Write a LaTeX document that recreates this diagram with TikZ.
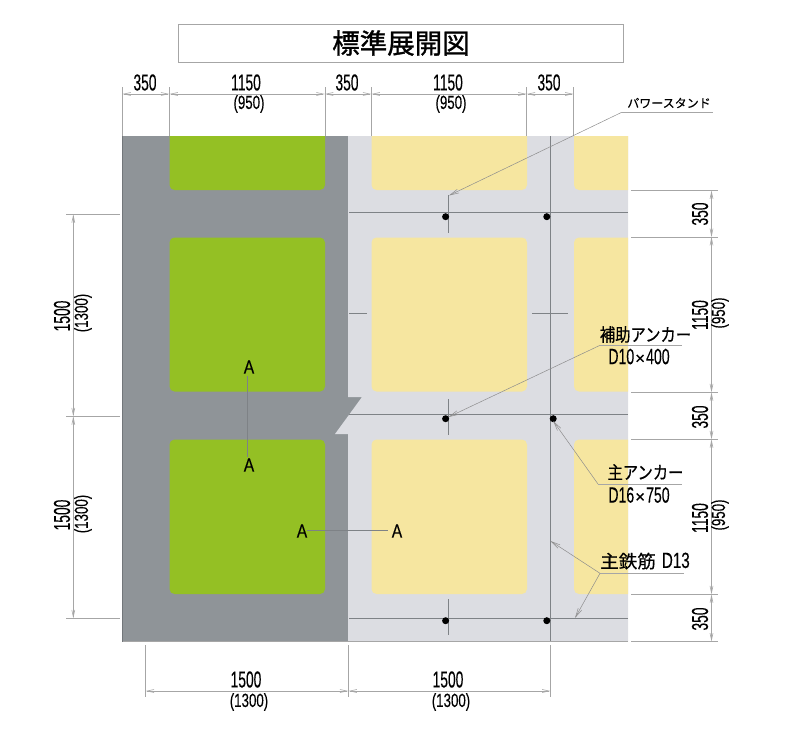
\documentclass[tikz,border=0pt]{standalone}
\usepackage{fontspec}
\usetikzlibrary{arrows.meta}
\setmainfont{Liberation Sans}
\newfontfamily\numfont[FakeBold=0.25]{Liberation Sans}
\newfontfamily\cjk{Noto Sans CJK JP}
\newfontfamily\cjkmid[FakeBold=0.5]{Noto Sans CJK JP}
\newfontfamily\cjkheavy[FakeBold=1.2]{Noto Sans CJK JP}
\definecolor{slabdark}{HTML}{8F9498}
\definecolor{slablight}{HTML}{DCDDE2}
\definecolor{padyellow}{HTML}{F6E6A0}
\definecolor{padgreen}{HTML}{94C024}
\definecolor{thinline}{HTML}{A6A6A6}
\definecolor{barline}{HTML}{7E8286}
\newcommand{\bignum}[1]{\numfont\fontsize{23}{23}\selectfont\scalebox{0.6}[1]{#1}}
\newcommand{\subnum}[1]{\numfont\fontsize{19}{19}\selectfont\scalebox{0.7}[1]{#1}}
\newcommand{\callnum}[1]{\numfont\fontsize{22}{22}\selectfont\scalebox{0.64}[1]{#1}}
\newcommand{\timesmark}{{\numfont\fontsize{17}{17}\selectfont ×}}
\newcommand{\sqzcjk}[2]{\scalebox{#1}[1]{\cjkmid\fontsize{18}{18}\selectfont #2}}
\tikzset{
  every node/.style={inner sep=0pt,outer sep=0pt,text=black},
  ext/.style={draw=thinline,line width=0.5pt},
  dimension/.style={draw=thinline,line width=0.6pt,{Straight Barb[length=7pt,width=3pt]}-{Straight Barb[length=7pt,width=3pt]}},
  leader/.style={draw=thinline!85!black,line width=0.5pt,-{Straight Barb[length=9pt,width=4pt]}},
  underline/.style={draw=thinline,line width=0.6pt},
  bar/.style={draw=barline,line width=0.6pt},
  anchorpt/.style={circle,fill=black,minimum size=7pt},
  padg/.style={fill=padgreen,rounded corners=5pt},
  pady/.style={fill=padyellow,rounded corners=5pt},
  letter/.style={font=\numfont\fontsize{19}{19}\selectfont}
}
\begin{document}
\begin{tikzpicture}[x=1pt,y=-1pt]
\useasboundingbox (0,0) rectangle (792,755);
% title
\node[draw=thinline,line width=0.6pt,minimum width=445pt,minimum height=38pt] (title) at (400.7,43.2) {};
\node (titletext) at (401,43) {\cjkheavy\fontsize{27.5}{27.5}\selectfont 標準展開図};
% slab
\fill[slabdark] (122,136) rectangle (349,641);
\fill[slabdark] (340,397) rectangle (362,434);
\fill[slablight] (348,136) -- (628,136) -- (628,641.5) -- (348,641.5) -- (348,434) -- (335,434) -- (362,397) -- (348,397) -- cycle;
\draw[draw=thinline,line width=0.6pt] (122,641.5) -- (628,641.5);
\draw[draw=slabdark!80!black,line width=0.6pt] (122,136) -- (122,641.5);
\begin{scope}
\clip (122,136) rectangle (628,641.5);
\fill[padg] (169.5,100) rectangle (325,190);
\fill[padg] (169.5,237.5) rectangle (325,391.5);
\fill[padg] (169.5,439.5) rectangle (325,594);
\fill[pady] (371.5,100) rectangle (527,190);
\fill[pady] (371.5,237.5) rectangle (527,391.5);
\fill[pady] (371.5,439.5) rectangle (527,594);
\fill[pady] (574,100) rectangle (680,190);
\fill[pady] (574,237.5) rectangle (680,391.5);
\fill[pady] (574,439.5) rectangle (680,594);
\end{scope}
% bars
\foreach \n/\y in {a/212.5,b/414.5,c/618}{
  \coordinate (bar\n l) at (349,\y);
  \coordinate (bar\n r) at (628,\y);
  \draw[bar] (bar\n l) -- (bar\n r);
}
\coordinate (vt) at (550.5,136); \coordinate (vb) at (550.5,641);
\draw[bar] (vt) -- (vb);
\foreach \n/\a/\b in {a/195/233,b/399/435,c/599/635}{
  \coordinate (tick\n t) at (448.5,\a);
  \coordinate (tick\n b) at (448.5,\b);
  \draw[bar] (tick\n t) -- (tick\n b);
}
\coordinate (hl1) at (349,313); \coordinate (hl2) at (367,313);
\coordinate (hr1) at (532,313); \coordinate (hr2) at (568,313);
\draw[bar] (hl1) -- (hl2);
\draw[bar] (hr1) -- (hr2);
% anchors
\node[anchorpt] (d1) at (445.6,216.7) {};
\node[anchorpt] (d2) at (546.8,216.7) {};
\node[anchorpt] (d3) at (445.6,418.7) {};
\node[anchorpt] (d4) at (553.2,418.7) {};
\node[anchorpt] (d5) at (445.6,620.7) {};
\node[anchorpt] (d6) at (546.8,620.7) {};
% section marks
\node[letter] (A1) at (249,367) {\scalebox{0.82}[1]{A}};
\node[letter] (A2) at (249,465) {\scalebox{0.82}[1]{A}};
\node[letter] (A3) at (302,531) {\scalebox{0.82}[1]{A}};
\node[letter] (A4) at (397,531) {\scalebox{0.82}[1]{A}};
\draw[bar] (247.5,376) -- (247.5,457);
\draw[bar] (307,530.5) -- (388,530.5);
% top dimension
\foreach \n/\x in {a/122.3,b/169.4,c/324.8,d/371.4,e/526.7,f/573.6}{
  \coordinate (te\n) at (\x,87);
  \coordinate (tb\n) at (\x,136);
  \coordinate (td\n) at (\x,94);
  \draw[ext] (te\n) -- (tb\n);
}
\foreach \p/\q in {a/b,b/c,c/d,d/e,e/f} \draw[dimension] (td\p) -- (td\q);
\node (t1) at (145,82.5) {\bignum{350}};
\node (t2) at (246,82.5) {\bignum{1150}};
\node (t2s) at (249,104) {\subnum{(950)}};
\node (t3) at (347,82.5) {\bignum{350}};
\node (t4) at (448,82.5) {\bignum{1150}};
\node (t4s) at (451,104) {\subnum{(950)}};
\node (t5) at (549,82.5) {\bignum{350}};
% left dimension
\foreach \n/\y in {a/214.3,b/416.3,c/618.3}{
  \coordinate (le\n) at (66,\y);
  \coordinate (lf\n) at (120,\y);
  \coordinate (ld\n) at (73.3,\y);
  \draw[ext] (le\n) -- (lf\n);
}
\draw[dimension] (lda) -- (ldb);
\draw[dimension] (ldb) -- (ldc);
\node[rotate=90] (l1) at (62,316) {\bignum{1500}};
\node[rotate=90] (l1s) at (83,313) {\subnum{(1300)}};
\node[rotate=90] (l2) at (62,515) {\bignum{1500}};
\node[rotate=90] (l2s) at (83,514) {\subnum{(1300)}};
% right dimension
\foreach \n/\y in {a/190.5,b/237,c/392.3,d/439.3,e/594.3,f/641.5}{
  \coordinate (re\n) at (631,\y);
  \coordinate (rf\n) at (718,\y);
  \coordinate (rd\n) at (711.5,\y);
  \draw[ext] (re\n) -- (rf\n);
}
\foreach \p/\q in {a/b,b/c,c/d,d/e,e/f} \draw[dimension] (rd\p) -- (rd\q);
\node[rotate=90] (r1) at (700,214) {\bignum{350}};
\node[rotate=90] (r2) at (700,315) {\bignum{1150}};
\node[rotate=90] (r2s) at (720,313) {\subnum{(950)}};
\node[rotate=90] (r3) at (700,417) {\bignum{350}};
\node[rotate=90] (r4) at (700,518) {\bignum{1150}};
\node[rotate=90] (r4s) at (720,515) {\subnum{(950)}};
\node[rotate=90] (r5) at (700,619) {\bignum{350}};
% bottom dimension
\foreach \n/\x in {a/145.6,b/348.4,c/550.6}{
  \coordinate (be\n) at (\x,645);
  \coordinate (bf\n) at (\x,697);
  \coordinate (bd\n) at (\x,691);
  \draw[ext] (be\n) -- (bf\n);
}
\draw[dimension] (bda) -- (bdb);
\draw[dimension] (bdb) -- (bdc);
\node (b1) at (246,679.5) {\bignum{1500}};
\node (b1s) at (249,702) {\subnum{(1300)}};
\node (b2) at (448,679.5) {\bignum{1500}};
\node (b2s) at (451,702) {\subnum{(1300)}};
% callouts
\node (pw) at (669,103) {\cjkmid\fontsize{12}{12}\selectfont パワースタンド};
\coordinate (pwl) at (621.7,112.3); \coordinate (pwr) at (712.7,112.3);
\coordinate (pwt) at (449,195.5);
\draw[underline] (pwl) -- (pwr);
\draw[leader] (pwl) -- (pwt);

\node (ho) at (645.5,334.5) {\sqzcjk{0.85}{補助アンカー}};
\node (hod) at (639,356.5) {\callnum{D10}\hspace{1pt}\timesmark\hspace{1pt}\callnum{400}};
\coordinate (hol) at (600,345.3); \coordinate (hor) at (682,345.3);
\coordinate (hot) at (448.5,417);
\draw[underline] (hol) -- (hor);
\draw[leader] (hol) -- (hot);

\node (sh) at (645.5,472) {\sqzcjk{0.85}{主アンカー}};
\node (shd) at (639,495) {\callnum{D16}\hspace{1pt}\timesmark\hspace{1pt}\callnum{750}};
\coordinate (shl) at (598,484); \coordinate (shr) at (682,484);
\coordinate (sht) at (553.2,421);
\draw[underline] (shl) -- (shr);
\draw[leader] (shl) -- (sht);

\node (te) at (645,561) {\scalebox{1.03}[1]{\cjkmid\fontsize{18}{18}\selectfont 主鉄筋}\hspace{6pt}\scalebox{1.08}[1]{\callnum{D13}}};
\coordinate (tel) at (600,573.3); \coordinate (ter) at (684,573.3);
\coordinate (tet1) at (550.5,541); \coordinate (tet2) at (575,618);
\draw[underline] (tel) -- (ter);
\draw[leader] (tel) -- (tet1);
\draw[leader] (tel) -- (tet2);
\end{tikzpicture}
\end{document}
